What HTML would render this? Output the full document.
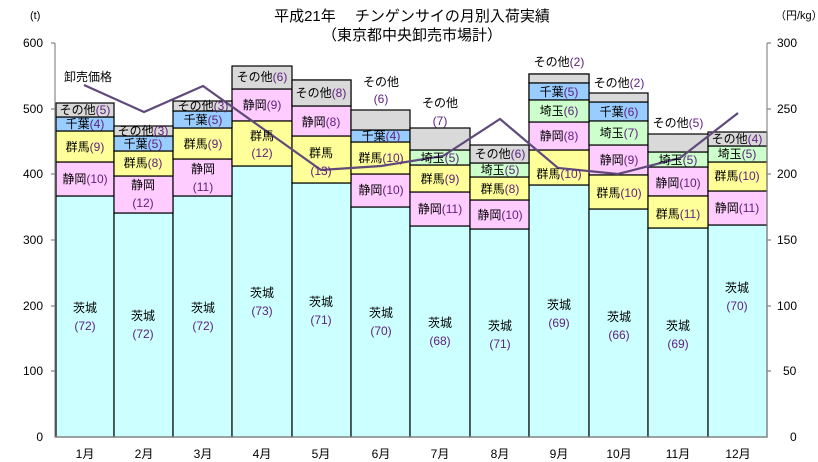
<!DOCTYPE html>
<html><head><meta charset="utf-8"><style>
body{margin:0;background:#fff}
svg{display:block}
text{font-family:"Liberation Sans","Noto Sans CJK JP",sans-serif;font-size:12px}
.c text{text-anchor:middle}
.n{fill:#602080}
</style></head><body>
<svg width="818" height="462" viewBox="0 0 818 462">
<rect width="818" height="462" fill="#fff"/>
<text x="412" y="21" text-anchor="middle" style="font-size:15px">平成21年　 チンゲンサイの月別入荷実績</text>
<text x="412" y="40" text-anchor="middle" style="font-size:15px">（東京都中央卸売市場計）</text>
<text x="30" y="19" style="font-size:11px">(t)</text>
<text x="775" y="19" style="font-size:11px">（円/kg）</text>
<g style="font-size:11px" text-anchor="end">
<text x="43" y="47">600</text><text x="43" y="113">500</text><text x="43" y="178">400</text><text x="43" y="244">300</text><text x="43" y="310">200</text><text x="43" y="375">100</text><text x="43" y="441">0</text>
</g>
<g style="font-size:11px">
<text x="777" y="47">300</text><text x="777" y="113">250</text><text x="777" y="178">200</text><text x="777" y="244">150</text><text x="777" y="310">100</text><text x="783" y="375">50</text><text x="790" y="441">0</text>
</g>
<g stroke="#000" stroke-width="1.2">
<!-- 茨城 -->
<g fill="#ccffff">
<rect x="56" y="196" width="58" height="241"/><rect x="114" y="213" width="59" height="224"/><rect x="173" y="196" width="59" height="241"/><rect x="232" y="166" width="60" height="271"/><rect x="292" y="183" width="59" height="254"/><rect x="351" y="207" width="59" height="230"/><rect x="410" y="226" width="60" height="211"/><rect x="470" y="229" width="59" height="208"/><rect x="529" y="185" width="60" height="252"/><rect x="589" y="209" width="59" height="228"/><rect x="648" y="228" width="60" height="209"/><rect x="708" y="225" width="59" height="212"/>
</g>
<g fill="#ffccff">
<rect x="56" y="162" width="58" height="34"/><rect x="114" y="176" width="59" height="37"/><rect x="173" y="159" width="59" height="37"/><rect x="232" y="89" width="60" height="32"/><rect x="292" y="80" width="59" height="26" fill="#ffccff"/><rect x="351" y="174" width="59" height="33"/><rect x="410" y="192" width="60" height="34"/><rect x="470" y="200" width="59" height="29"/><rect x="529" y="100" width="60" height="22"/><rect x="589" y="145" width="59" height="30"/><rect x="648" y="167" width="60" height="29"/><rect x="708" y="191" width="59" height="34"/>
</g>
<g fill="#ffff99">
<rect x="56" y="131" width="58" height="31"/><rect x="114" y="151" width="59" height="25"/><rect x="173" y="128" width="59" height="31"/><rect x="232" y="121" width="60" height="45"/><rect x="292" y="136" width="59" height="47"/><rect x="351" y="142" width="59" height="32"/><rect x="410" y="165" width="60" height="27"/><rect x="470" y="177" width="59" height="23"/><rect x="529" y="150" width="60" height="35"/><rect x="589" y="175" width="59" height="34"/><rect x="648" y="196" width="60" height="32"/><rect x="708" y="162" width="59" height="29"/>
</g>
<rect x="292" y="106" width="59" height="30" fill="#ffccff"/>
<rect x="529" y="122" width="60" height="28" fill="#ffccff"/>
<g fill="#99ccff">
<rect x="56" y="117" width="58" height="14"/><rect x="114" y="136" width="59" height="15"/><rect x="173" y="111" width="59" height="17"/><rect x="351" y="130" width="59" height="12"/><rect x="529" y="74" width="60" height="9"/><rect x="589" y="102" width="59" height="19"/>
</g>
<g fill="#ccffcc">
<rect x="410" y="150" width="60" height="15"/><rect x="470" y="163" width="59" height="14"/><rect x="529" y="83" width="60" height="17"/><rect x="589" y="121" width="59" height="24"/><rect x="648" y="152" width="60" height="15"/><rect x="708" y="146" width="59" height="16"/>
</g>
<g fill="#d9d9d9">
<rect x="56" y="103" width="58" height="14"/><rect x="114" y="126" width="59" height="10"/><rect x="173" y="101" width="59" height="10"/><rect x="232" y="66" width="60" height="23"/><rect x="292" y="80" width="59" height="26"/><rect x="351" y="110" width="59" height="20"/><rect x="410" y="128" width="60" height="22"/><rect x="470" y="145" width="59" height="18"/><rect x="529" y="74" width="60" height="9"/><rect x="589" y="93" width="59" height="9"/><rect x="648" y="134" width="60" height="18"/><rect x="708" y="132" width="59" height="14"/>
</g>
<rect x="529" y="83" width="60" height="17" fill="#99ccff"/>
<rect x="529" y="100" width="60" height="22" fill="#ccffcc"/>
</g>
<g stroke="#888" stroke-width="1.2" fill="none">
<path d="M55,43V437H767V43"/>
<path d="M51,43H55M51,109H55M51,174H55M51,240H55M51,306H55M51,371H55"/>
<path d="M767,43H771M767,109H771M767,174H771M767,240H771M767,306H771M767,371H771"/>
</g>
<polyline fill="none" stroke="#604a7b" stroke-width="2.2" points="84,85 144,112 203,86 262,128 321,170 381,166 443,156 500,119 558,168 618,174 680,158 738,113"/>
<text x="88" y="81" text-anchor="middle">卸売価格</text>
<g class="c">
<text x="85" y="114">その他<tspan class="n">(5)</tspan></text>
<text x="85" y="128">千葉<tspan class="n">(4)</tspan></text>
<text x="85" y="151">群馬<tspan class="n">(9)</tspan></text>
<text x="85" y="183">静岡<tspan class="n">(10)</tspan></text>
<text x="85" y="312">茨城</text><text x="85" y="330" class="n">(72)</text>

<text x="143" y="135">その他<tspan class="n">(3)</tspan></text>
<text x="143" y="148">千葉<tspan class="n">(5)</tspan></text>
<text x="143" y="167">群馬<tspan class="n">(8)</tspan></text>
<text x="143" y="189">静岡</text><text x="143" y="207" class="n">(12)</text>
<text x="143" y="320">茨城</text><text x="143" y="338" class="n">(72)</text>

<text x="203" y="110">その他<tspan class="n">(3)</tspan></text>
<text x="203" y="124">千葉<tspan class="n">(5)</tspan></text>
<text x="203" y="148">群馬<tspan class="n">(9)</tspan></text>
<text x="203" y="173">静岡</text><text x="203" y="191" class="n">(11)</text>
<text x="203" y="312">茨城</text><text x="203" y="330" class="n">(72)</text>

<text x="262" y="81">その他<tspan class="n">(6)</tspan></text>
<text x="262" y="109">静岡<tspan class="n">(9)</tspan></text>
<text x="262" y="140">群馬</text><text x="262" y="157" class="n">(12)</text>
<text x="262" y="297">茨城</text><text x="262" y="315" class="n">(73)</text>

<text x="321" y="97">その他<tspan class="n">(8)</tspan></text>
<text x="321" y="126">静岡<tspan class="n">(8)</tspan></text>
<text x="321" y="157">群馬</text><text x="321" y="175" class="n">(13)</text>
<text x="321" y="306">茨城</text><text x="321" y="324" class="n">(71)</text>

<text x="381" y="86">その他</text><text x="381" y="103" class="n">(6)</text>
<text x="381" y="140">千葉<tspan class="n">(4)</tspan></text>
<text x="381" y="162">群馬<tspan class="n">(10)</tspan></text>
<text x="381" y="194">静岡<tspan class="n">(10)</tspan></text>
<text x="381" y="317">茨城</text><text x="381" y="335" class="n">(70)</text>

<text x="440" y="107">その他</text><text x="440" y="125" class="n">(7)</text>
<text x="440" y="162">埼玉<tspan class="n">(5)</tspan></text>
<text x="440" y="183">群馬<tspan class="n">(9)</tspan></text>
<text x="440" y="213">静岡<tspan class="n">(11)</tspan></text>
<text x="440" y="327">茨城</text><text x="440" y="345" class="n">(68)</text>

<text x="500" y="158">その他<tspan class="n">(6)</tspan></text>
<text x="500" y="174">埼玉<tspan class="n">(5)</tspan></text>
<text x="500" y="193">群馬<tspan class="n">(8)</tspan></text>
<text x="500" y="219">静岡<tspan class="n">(10)</tspan></text>
<text x="500" y="330">茨城</text><text x="500" y="348" class="n">(71)</text>

<text x="559" y="66">その他<tspan class="n">(2)</tspan></text>
<text x="559" y="96">千葉<tspan class="n">(5)</tspan></text>
<text x="559" y="115">埼玉<tspan class="n">(6)</tspan></text>
<text x="559" y="140">静岡<tspan class="n">(8)</tspan></text>
<text x="559" y="178">群馬<tspan class="n">(10)</tspan></text>
<text x="559" y="309">茨城</text><text x="559" y="327" class="n">(69)</text>

<text x="619" y="87">その他<tspan class="n">(2)</tspan></text>
<text x="619" y="116">千葉<tspan class="n">(6)</tspan></text>
<text x="619" y="137">埼玉<tspan class="n">(7)</tspan></text>
<text x="619" y="164">静岡<tspan class="n">(9)</tspan></text>
<text x="619" y="197">群馬<tspan class="n">(10)</tspan></text>
<text x="619" y="321">茨城</text><text x="619" y="339" class="n">(66)</text>

<text x="678" y="127">その他<tspan class="n">(5)</tspan></text>
<text x="678" y="164">埼玉<tspan class="n">(5)</tspan></text>
<text x="678" y="187">静岡<tspan class="n">(10)</tspan></text>
<text x="678" y="218">群馬<tspan class="n">(11)</tspan></text>
<text x="678" y="330">茨城</text><text x="678" y="348" class="n">(69)</text>

<text x="737" y="143">その他<tspan class="n">(4)</tspan></text>
<text x="737" y="158">埼玉<tspan class="n">(5)</tspan></text>
<text x="737" y="180">群馬<tspan class="n">(10)</tspan></text>
<text x="737" y="212">静岡<tspan class="n">(11)</tspan></text>
<text x="737" y="292">茨城</text><text x="737" y="310" class="n">(70)</text>
</g>
<g class="c" style="font-size:11px">
<text x="85" y="458">1月</text><text x="144" y="458">2月</text><text x="203" y="458">3月</text><text x="262" y="458">4月</text><text x="321" y="458">5月</text><text x="381" y="458">6月</text><text x="440" y="458">7月</text><text x="500" y="458">8月</text><text x="559" y="458">9月</text><text x="619" y="458">10月</text><text x="678" y="458">11月</text><text x="738" y="458">12月</text>
</g>
</svg>
</body></html>
